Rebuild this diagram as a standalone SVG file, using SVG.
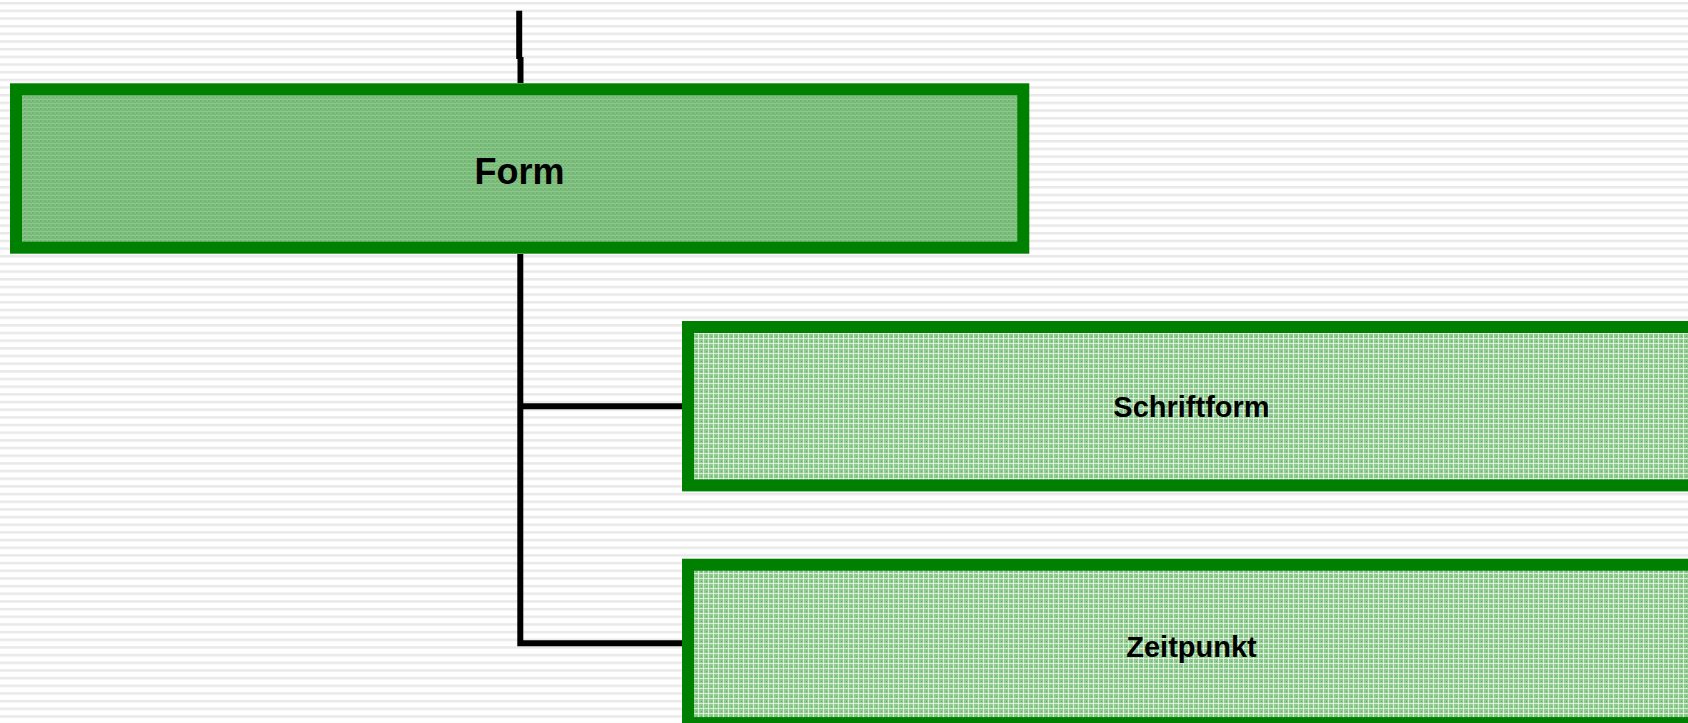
<svg xmlns="http://www.w3.org/2000/svg" width="1688" height="723" viewBox="0 0 1688 723">
<defs>
<pattern id="bg" x="0" y="0" width="16" height="7.67" patternUnits="userSpaceOnUse">
<rect width="16" height="7.67" fill="#ffffff"/>
<rect y="2.3" width="16" height="1.2" fill="#dcdcdc"/>
<rect y="3.5" width="16" height="1" fill="#ececec"/>
</pattern>
<pattern id="parentFill" x="0" y="0" width="4" height="4" patternUnits="userSpaceOnUse">
<rect width="4" height="4" fill="#80c080"/>
<rect width="2" height="2" fill="#74b474"/>
<rect x="2" y="2" width="2" height="2" fill="#74b474"/>
<rect y="3" width="4" height="1" fill="#8ac88a"/>
</pattern>
<pattern id="childFill" x="0" y="0" width="5" height="5" patternUnits="userSpaceOnUse">
<rect width="5" height="5" fill="#8fca8f"/>
<rect x="1" y="1" width="1" height="1" fill="#64b064"/>
<rect x="3" width="1" height="5" fill="#d6ecd6"/>
<rect y="3" width="5" height="1" fill="#d6ecd6"/>
<rect x="3" y="3" width="1" height="1" fill="#f4faf4"/>
</pattern>
</defs>
<style>
.box{stroke:#008000;stroke-width:12}
.parent{fill:url(#parentFill)}
.child{fill:url(#childFill)}
.conn{fill:none;stroke:#000000;stroke-width:6}
.lbl{font-family:"Liberation Sans",Arial,sans-serif;font-weight:bold;fill:#000000;text-anchor:middle}
</style>
<rect width="1688" height="723" fill="url(#bg)"/>
<g id="connectors">
<path class="conn" d="M519.2,10.7 V59"/>
<path class="conn" d="M520.5,57 V83"/>
<path class="conn" d="M520.3,254 V643.3 H682"/>
<path class="conn" d="M520.3,406.2 H682"/>
</g>
<g id="node-form">
<rect class="box parent" x="16" y="89.3" width="1007.3" height="158.4"/>
<text class="lbl" x="519.5" y="184.3" font-size="36">Form</text>
</g>
<g id="node-schriftform">
<rect class="box child" x="688" y="327" width="1007" height="158.4"/>
<text class="lbl" x="1191.5" y="417" font-size="29">Schriftform</text>
</g>
<g id="node-zeitpunkt">
<rect class="box child" x="688" y="564.7" width="1007" height="158.4"/>
<text class="lbl" x="1191.5" y="656.5" font-size="29">Zeitpunkt</text>
</g>
</svg>
